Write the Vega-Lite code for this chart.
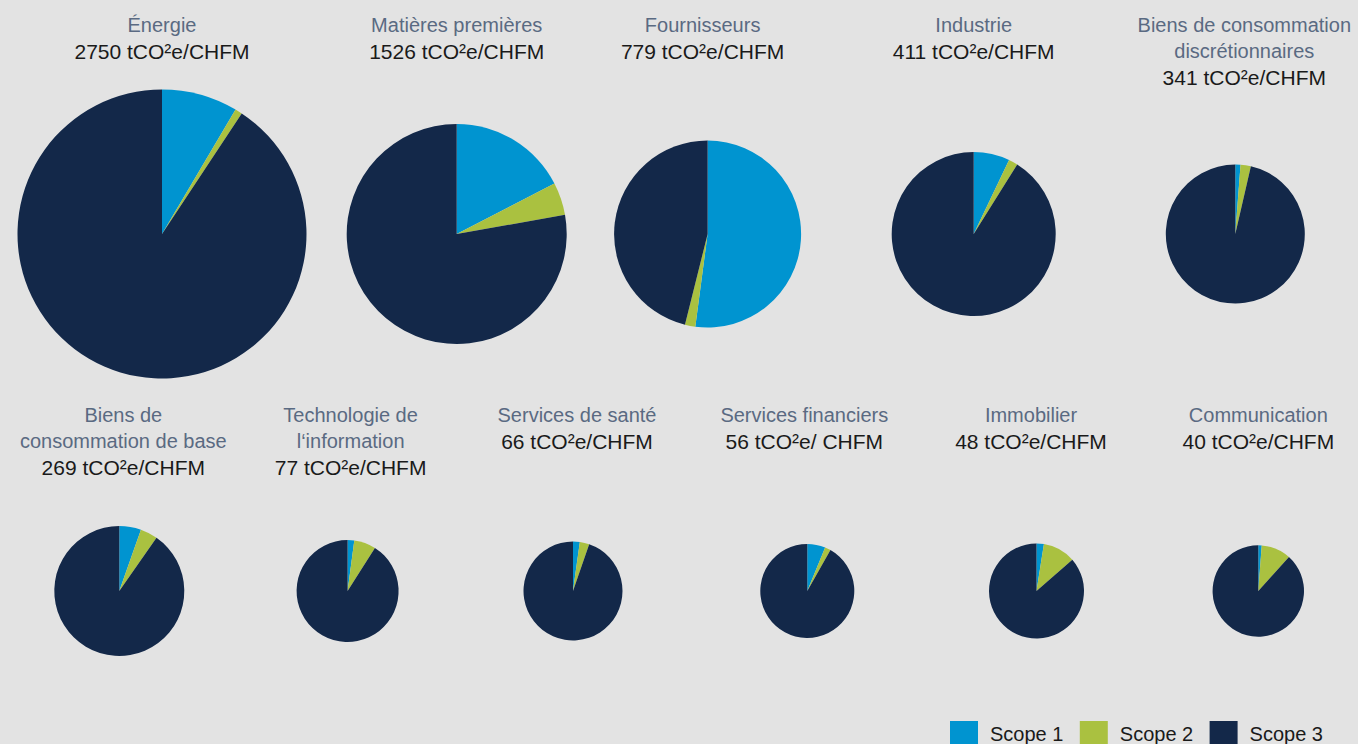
{
  "$schema": "https://vega.github.io/schema/vega-lite/v6.json",
  "background": "#e3e3e3",
  "padding": {"left": 11, "top": 16, "right": 0, "bottom": 0},
  "bounds": "flush",
  "spacing": 436,
  "data": {
    "values": [
      {"sector": "Énergie", "scope": "Scope 1", "share": 8.5},
      {"sector": "Énergie", "scope": "Scope 2", "share": 0.8},
      {"sector": "Énergie", "scope": "Scope 3", "share": 90.7},
      {"sector": "Matières premières", "scope": "Scope 1", "share": 17.4},
      {"sector": "Matières premières", "scope": "Scope 2", "share": 4.8},
      {"sector": "Matières premières", "scope": "Scope 3", "share": 77.8},
      {"sector": "Fournisseurs", "scope": "Scope 1", "share": 52.1},
      {"sector": "Fournisseurs", "scope": "Scope 2", "share": 1.8},
      {"sector": "Fournisseurs", "scope": "Scope 3", "share": 46.1},
      {"sector": "Industrie", "scope": "Scope 1", "share": 7.1},
      {"sector": "Industrie", "scope": "Scope 2", "share": 1.8},
      {"sector": "Industrie", "scope": "Scope 3", "share": 91.1},
      {"sector": "Biens de consommation discrétionnaires", "scope": "Scope 1", "share": 1.2},
      {"sector": "Biens de consommation discrétionnaires", "scope": "Scope 2", "share": 2.4},
      {"sector": "Biens de consommation discrétionnaires", "scope": "Scope 3", "share": 96.4},
      {"sector": "Biens de consommation de base", "scope": "Scope 1", "share": 5.4},
      {"sector": "Biens de consommation de base", "scope": "Scope 2", "share": 4.3},
      {"sector": "Biens de consommation de base", "scope": "Scope 3", "share": 90.3},
      {"sector": "Technologie de l‘information", "scope": "Scope 1", "share": 2.1},
      {"sector": "Technologie de l‘information", "scope": "Scope 2", "share": 6.9},
      {"sector": "Technologie de l‘information", "scope": "Scope 3", "share": 91.0},
      {"sector": "Services de santé", "scope": "Scope 1", "share": 2.2},
      {"sector": "Services de santé", "scope": "Scope 2", "share": 3.1},
      {"sector": "Services de santé", "scope": "Scope 3", "share": 94.7},
      {"sector": "Services financiers", "scope": "Scope 1", "share": 6.2},
      {"sector": "Services financiers", "scope": "Scope 2", "share": 2.0},
      {"sector": "Services financiers", "scope": "Scope 3", "share": 91.8},
      {"sector": "Immobilier", "scope": "Scope 1", "share": 2.5},
      {"sector": "Immobilier", "scope": "Scope 2", "share": 11.1},
      {"sector": "Immobilier", "scope": "Scope 3", "share": 86.4},
      {"sector": "Communication", "scope": "Scope 1", "share": 1.2},
      {"sector": "Communication", "scope": "Scope 2", "share": 10.5},
      {"sector": "Communication", "scope": "Scope 3", "share": 88.3}
    ]
  },
  "resolve": {"scale": {"theta": "independent"}},
  "vconcat": [
    {
      "bounds": "flush",
      "spacing": 0,
      "resolve": {"scale": {"theta": "independent"}},
      "hconcat": [
        {
          "width": 302, "height": 290,
          "title": {"text": "Énergie", "subtitle": "2750 tCO²e/CHFM", "offset": 25.8, "dx": 0},
          "transform": [{"filter": "datum.sector == 'Énergie'"}],
          "mark": {"type": "arc", "outerRadius": 144.5},
          "encoding": {
            "theta": {"field": "share", "type": "quantitative", "stack": true},
            "color": {"field": "scope", "type": "nominal", "scale": {"domain": ["Scope 1", "Scope 2", "Scope 3"], "range": ["#0094d0", "#aac140", "#132849"]}},
            "order": {"field": "scope", "sort": "ascending"}
          }
        },
        {
          "width": 287.4, "height": 290,
          "title": {"text": "Matières premières", "subtitle": "1526 tCO²e/CHFM", "offset": 25.8, "dx": 0},
          "transform": [{"filter": "datum.sector == 'Matières premières'"}],
          "mark": {"type": "arc", "outerRadius": 110},
          "encoding": {
            "theta": {"field": "share", "type": "quantitative", "stack": true},
            "color": {"field": "scope", "type": "nominal", "scale": {"domain": ["Scope 1", "Scope 2", "Scope 3"], "range": ["#0094d0", "#aac140", "#132849"]}},
            "order": {"field": "scope", "sort": "ascending"}
          }
        },
        {
          "width": 213.2, "height": 290,
          "title": {"text": "Fournisseurs", "subtitle": "779 tCO²e/CHFM", "offset": 25.8, "dx": -5},
          "transform": [{"filter": "datum.sector == 'Fournisseurs'"}],
          "mark": {"type": "arc", "outerRadius": 93.5},
          "encoding": {
            "theta": {"field": "share", "type": "quantitative", "stack": true},
            "color": {"field": "scope", "type": "nominal", "scale": {"domain": ["Scope 1", "Scope 2", "Scope 3"], "range": ["#0094d0", "#aac140", "#132849"]}},
            "order": {"field": "scope", "sort": "ascending"}
          }
        },
        {
          "width": 317.4, "height": 290,
          "title": {"text": "Industrie", "subtitle": "411 tCO²e/CHFM", "offset": 25.8, "dx": 0},
          "transform": [{"filter": "datum.sector == 'Industrie'"}],
          "mark": {"type": "arc", "outerRadius": 82},
          "encoding": {
            "theta": {"field": "share", "type": "quantitative", "stack": true},
            "color": {"field": "scope", "type": "nominal", "scale": {"domain": ["Scope 1", "Scope 2", "Scope 3"], "range": ["#0094d0", "#aac140", "#132849"]}},
            "order": {"field": "scope", "sort": "ascending"}
          }
        },
        {
          "width": 204.6, "height": 290,
          "title": {"text": ["Biens de consommation", "discrétionnaires"], "subtitle": "341 tCO²e/CHFM", "offset": -0.2, "dx": 9},
          "transform": [{"filter": "datum.sector == 'Biens de consommation discrétionnaires'"}],
          "mark": {"type": "arc", "outerRadius": 69.5},
          "encoding": {
            "theta": {"field": "share", "type": "quantitative", "stack": true},
            "color": {"field": "scope", "type": "nominal", "scale": {"domain": ["Scope 1", "Scope 2", "Scope 3"], "range": ["#0094d0", "#aac140", "#132849"]}},
            "order": {"field": "scope", "sort": "ascending"}
          }
        }
      ]
    },
    {
      "bounds": "flush",
      "spacing": 19.8,
      "resolve": {"scale": {"theta": "independent"}},
      "hconcat": [
        {
          "width": 216.6, "height": 132,
          "title": {"text": ["Biens de", "consommation de base"], "subtitle": "269 tCO²e/CHFM", "offset": 46.1, "dx": 4},
          "transform": [{"filter": "datum.sector == 'Biens de consommation de base'"}],
          "mark": {"type": "arc", "outerRadius": 65},
          "encoding": {
            "theta": {"field": "share", "type": "quantitative", "stack": true},
            "color": {"field": "scope", "type": "nominal", "scale": {"domain": ["Scope 1", "Scope 2", "Scope 3"], "range": ["#0094d0", "#aac140", "#132849"]}},
            "order": {"field": "scope", "sort": "ascending"}
          }
        },
        {
          "width": 199.6, "height": 132,
          "title": {"text": ["Technologie de", "l‘information"], "subtitle": "77 tCO²e/CHFM", "offset": 46.1, "dx": 3},
          "transform": [{"filter": "datum.sector == 'Technologie de l‘information'"}],
          "mark": {"type": "arc", "outerRadius": 51},
          "encoding": {
            "theta": {"field": "share", "type": "quantitative", "stack": true},
            "color": {"field": "scope", "type": "nominal", "scale": {"domain": ["Scope 1", "Scope 2", "Scope 3"], "range": ["#0094d0", "#aac140", "#132849"]}},
            "order": {"field": "scope", "sort": "ascending"}
          }
        },
        {
          "width": 210.8, "height": 132,
          "title": {"text": "Services de santé", "subtitle": "66 tCO²e/CHFM", "offset": 72.1, "dx": 4},
          "transform": [{"filter": "datum.sector == 'Services de santé'"}],
          "mark": {"type": "arc", "outerRadius": 49.5},
          "encoding": {
            "theta": {"field": "share", "type": "quantitative", "stack": true},
            "color": {"field": "scope", "type": "nominal", "scale": {"domain": ["Scope 1", "Scope 2", "Scope 3"], "range": ["#0094d0", "#aac140", "#132849"]}},
            "order": {"field": "scope", "sort": "ascending"}
          }
        },
        {
          "width": 217.8, "height": 132,
          "title": {"text": "Services financiers", "subtitle": "56 tCO²e/ CHFM", "offset": 72.1, "dx": -3},
          "transform": [{"filter": "datum.sector == 'Services financiers'"}],
          "mark": {"type": "arc", "outerRadius": 47},
          "encoding": {
            "theta": {"field": "share", "type": "quantitative", "stack": true},
            "color": {"field": "scope", "type": "nominal", "scale": {"domain": ["Scope 1", "Scope 2", "Scope 3"], "range": ["#0094d0", "#aac140", "#132849"]}},
            "order": {"field": "scope", "sort": "ascending"}
          }
        },
        {
          "width": 200.6, "height": 132,
          "title": {"text": "Immobilier", "subtitle": "48 tCO²e/CHFM", "offset": 72.1, "dx": -5.5},
          "transform": [{"filter": "datum.sector == 'Immobilier'"}],
          "mark": {"type": "arc", "outerRadius": 47.5},
          "encoding": {
            "theta": {"field": "share", "type": "quantitative", "stack": true},
            "color": {"field": "scope", "type": "nominal", "scale": {"domain": ["Scope 1", "Scope 2", "Scope 3"], "range": ["#0094d0", "#aac140", "#132849"]}},
            "order": {"field": "scope", "sort": "ascending"}
          }
        },
        {
          "width": 202.6, "height": 132,
          "title": {"text": "Communication", "subtitle": "40 tCO²e/CHFM", "offset": 72.1, "dx": 0},
          "transform": [{"filter": "datum.sector == 'Communication'"}],
          "mark": {"type": "arc", "outerRadius": 45.7},
          "encoding": {
            "theta": {"field": "share", "type": "quantitative", "stack": true},
            "color": {"field": "scope", "type": "nominal", "scale": {"domain": ["Scope 1", "Scope 2", "Scope 3"], "range": ["#0094d0", "#aac140", "#132849"]}, "legend": {"orient": "none", "legendX": 939, "legendY": 632, "direction": "horizontal", "title": null}},
            "order": {"field": "scope", "sort": "ascending"}
          }
        }
      ]
    }
  ],
  "config": {
    "view": {"stroke": null},
    "font": "Liberation Sans",
    "arc": {"stroke": null},
    "title": {
      "font": "Liberation Sans",
      "fontSize": 20,
      "fontWeight": "normal",
      "color": "#5a6a82",
      "lineHeight": 26,
      "subtitleFont": "Liberation Sans",
      "subtitleFontSize": 21,
      "subtitleFontWeight": "normal",
      "subtitleColor": "#1a1a1a",
      "subtitleLineHeight": 26,
      "subtitlePadding": 6,
      "anchor": "middle",
      "frame": "group"
    },
    "legend": {
      "padding": 0,
      "symbolType": "M-1,-1H1V0.714H-1Z",
      "symbolSize": 784,
      "symbolStrokeWidth": 0,
      "symbolOpacity": 1,
      "labelFont": "Liberation Sans",
      "labelFontSize": 20,
      "labelColor": "#1a1a1a",
      "labelOffset": 12,
      "columnPadding": 15.8,
      "labelLimit": 200
    }
  }
}
